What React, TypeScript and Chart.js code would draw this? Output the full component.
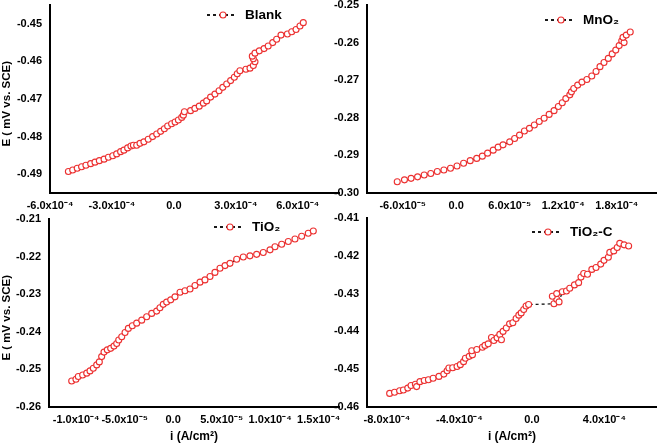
import React, { useEffect, useRef } from "react";
import { Chart, registerables } from "chart.js";

Chart.register(...registerables);

const FONT = '"Liberation Sans", Arial, Helvetica, sans-serif';
const RED = "rgb(236, 48, 48)";

// ---------- Blank ----------
const blankLabel = "Blank";
const blankX = [
  -5.11e-4, -4.9e-4, -4.68e-4, -4.47e-4, -4.26e-4, -4.03e-4, -3.82e-4, -3.61e-4, -3.38e-4, -3.17e-4,
  -2.96e-4, -2.77e-4, -2.58e-4, -2.42e-4, -2.24e-4, -2.08e-4, -1.96e-4, -1.8e-4, -1.64e-4, -1.45e-4,
  -1.24e-4, -1.03e-4, -0.83e-4, -0.64e-4, -0.46e-4, -0.3e-4, -0.11e-4, 0.06e-4, 0.22e-4, 0.38e-4,
  0.46e-4, 0.51e-4, 0.81e-4, 1.02e-4, 1.23e-4, 1.43e-4, 1.59e-4, 1.78e-4, 1.99e-4, 2.19e-4,
  2.37e-4, 2.56e-4, 2.75e-4, 2.93e-4, 3.07e-4, 3.2e-4, 3.49e-4, 3.69e-4, 3.85e-4, 3.93e-4,
  3.85e-4, 3.8e-4, 3.93e-4, 4.14e-4, 4.37e-4, 4.57e-4, 4.79e-4, 4.98e-4, 5.19e-4, 5.5e-4,
  5.71e-4, 5.92e-4, 6.11e-4, 6.27e-4,
];
const blankY = [
  -0.4893, -0.4889, -0.4884, -0.488, -0.4876, -0.4872, -0.4868, -0.4864, -0.486, -0.4855,
  -0.4851, -0.4846, -0.484, -0.4836, -0.483, -0.4825, -0.4823, -0.4823, -0.4818, -0.4814,
  -0.4807, -0.48, -0.4793, -0.4786, -0.4779, -0.4772, -0.4766, -0.4761, -0.4756, -0.4749,
  -0.4743, -0.4734, -0.4731, -0.4725, -0.4719, -0.4711, -0.4705, -0.4695, -0.4687, -0.4678,
  -0.4669, -0.466, -0.4651, -0.4642, -0.4633, -0.4625, -0.4621, -0.4618, -0.4611, -0.4601,
  -0.4593, -0.4586, -0.4578, -0.4572, -0.4566, -0.4559, -0.455, -0.4541, -0.453, -0.4527,
  -0.4521, -0.4515, -0.4506, -0.4497,
];
const blankXTicks = [-6e-4, -3e-4, 0, 3e-4, 6e-4];
const blankXTickLabels = ["-6.0x10\u207B\u2074", "-3.0x10\u207B\u2074", "0.0", "3.0x10\u207B\u2074", "6.0x10\u207B\u2074"];
const blankYTicks = [-0.49, -0.48, -0.47, -0.46, -0.45];
const blankXRange = [-6e-4, 8e-4];
const blankYRange = [-0.495, -0.445];

// ---------- MnO2 ----------
const mno2Label = "MnO\u2082";
const mno2X = [
  -6.61e-5, -5.8e-5, -5.06e-5, -4.33e-5, -3.59e-5, -2.85e-5, -2.12e-5, -1.38e-5, -0.64e-5, 0.09e-5,
  0.83e-5, 1.57e-5, 2.3e-5, 2.93e-5, 3.52e-5, 4.15e-5, 4.7e-5, 5.25e-5, 6.0e-5, 6.55e-5,
  7.1e-5, 7.65e-5, 8.21e-5, 8.76e-5, 9.31e-5, 9.86e-5, 10.42e-5, 10.97e-5, 11.45e-5, 11.89e-5,
  12.29e-5, 12.74e-5, 12.92e-5, 13.18e-5, 13.62e-5, 14.1e-5, 14.65e-5, 15.2e-5, 15.68e-5, 16.12e-5,
  16.57e-5, 17.05e-5, 17.49e-5, 17.89e-5, 18.27e-5, 18.56e-5, 18.82e-5, 18.7e-5, 19.07e-5, 19.51e-5,
];
const mno2Y = [
  -0.297, -0.2965, -0.2961, -0.2957, -0.2952, -0.2948, -0.2943, -0.2939, -0.2934, -0.2928,
  -0.2921, -0.2914, -0.2908, -0.2902, -0.2894, -0.2886, -0.2878, -0.2872, -0.2864, -0.2855,
  -0.2846, -0.2835, -0.2828, -0.2819, -0.281, -0.2801, -0.2791, -0.2781, -0.277, -0.276,
  -0.2749, -0.2739, -0.2731, -0.2722, -0.2713, -0.2705, -0.2698, -0.2689, -0.2677, -0.2664,
  -0.2653, -0.2642, -0.263, -0.262, -0.2608, -0.2595, -0.26, -0.2586, -0.258, -0.2572,
];
const mno2XTicks = [-6e-5, 0, 6e-5, 1.2e-4, 1.8e-4];
const mno2XTickLabels = ["-6.0x10\u207B\u2075", "0.0", "6.0x10\u207B\u2075", "1.2x10\u207B\u2074", "1.8x10\u207B\u2074"];
const mno2YTicks = [-0.3, -0.29, -0.28, -0.27, -0.26, -0.25];
const mno2XRange = [-1e-4, 2.25e-4];
const mno2YRange = [-0.3, -0.25];

// ---------- TiO2 ----------
const tio2Label = "TiO\u2082";
const tio2X = [
  -10.46e-5, -10.02e-5, -9.78e-5, -9.33e-5, -8.91e-5, -8.57e-5, -8.23e-5, -7.88e-5, -7.61e-5, -7.37e-5,
  -7.13e-5, -6.79e-5, -6.44e-5, -6.1e-5, -5.82e-5, -5.61e-5, -5.3e-5, -4.96e-5, -4.62e-5, -4.21e-5,
  -3.76e-5, -3.24e-5, -2.73e-5, -2.21e-5, -1.7e-5, -1.36e-5, -1.02e-5, -0.67e-5, -0.25e-5, 0.19e-5,
  0.71e-5, 1.22e-5, 1.74e-5, 2.25e-5, 2.77e-5, 3.28e-5, 3.8e-5, 4.31e-5, 4.83e-5, 5.35e-5,
  5.86e-5, 6.55e-5, 7.23e-5, 7.92e-5, 8.61e-5, 9.29e-5, 9.99e-5, 10.5e-5, 11.19e-5, 11.87e-5,
  12.56e-5, 13.25e-5, 13.93e-5, 14.45e-5,
];
const tio2Y = [
  -0.2531, -0.2526, -0.2519, -0.2515, -0.251, -0.2504, -0.2497, -0.2488, -0.248, -0.2466,
  -0.2454, -0.2448, -0.2444, -0.2438, -0.2431, -0.2422, -0.2413, -0.2402, -0.2391, -0.2384,
  -0.2377, -0.2369, -0.236, -0.2351, -0.2345, -0.2336, -0.2327, -0.2321, -0.2315, -0.2307,
  -0.2295, -0.2291, -0.2286, -0.2277, -0.2268, -0.2262, -0.2253, -0.2242, -0.2231, -0.2224,
  -0.2218, -0.2207, -0.2201, -0.2198, -0.2194, -0.2189, -0.2182, -0.2174, -0.2167, -0.216,
  -0.2153, -0.2146, -0.2138, -0.2132,
];
const tio2XTicks = [-1e-4, -5e-5, 0, 5e-5, 1e-4, 1.5e-4];
const tio2XTickLabels = ["-1.0x10\u207B\u2074", "-5.0x10\u207B\u2075", "0.0", "5.0x10\u207B\u2075", "1.0x10\u207B\u2074", "1.5x10\u207B\u2074"];
const tio2YTicks = [-0.26, -0.25, -0.24, -0.23, -0.22, -0.21];
const tio2XRange = [-1.28e-4, 1.71e-4];
const tio2YRange = [-0.26, -0.21];

// ---------- TiO2-C ----------
const tio2cLabel = "TiO\u2082-C";
const tio2cX = [
  -7.85e-4, -7.58e-4, -7.3e-4, -7.09e-4, -6.85e-4, -6.67e-4, -6.43e-4, -6.36e-4, -6.18e-4, -5.94e-4,
  -5.71e-4, -5.45e-4, -5.13e-4, -4.86e-4, -4.68e-4, -4.58e-4, -4.37e-4, -4.13e-4, -3.95e-4, -3.77e-4,
  -3.67e-4, -3.46e-4, -3.28e-4, -3.32e-4, -3.04e-4, -2.73e-4, -2.59e-4, -2.41e-4, -2.23e-4, -2.1e-4,
  -1.92e-4, -1.77e-4, -1.68e-4, -1.59e-4, -1.41e-4, -1.23e-4, -1.05e-4, -0.87e-4, -0.72e-4, -0.59e-4,
  -0.45e-4, -0.32e-4, -0.18e-4, 1.22e-4, 1.37e-4, 1.13e-4, 1.37e-4, 1.5e-4, 1.68e-4, 1.91e-4,
  2.09e-4, 2.35e-4, 2.58e-4, 2.71e-4, 2.86e-4, 3.07e-4, 3.31e-4, 3.54e-4, 3.8e-4, 3.98e-4,
  4.22e-4, 4.3e-4, 4.52e-4, 4.71e-4, 4.85e-4, 5.09e-4, 5.34e-4,
];
const tio2cY = [
  -0.4564, -0.4561, -0.4557, -0.4555, -0.455, -0.4543, -0.454, -0.4546, -0.4533, -0.453,
  -0.4528, -0.4524, -0.4519, -0.4513, -0.4504, -0.4497, -0.4496, -0.4493, -0.4488, -0.448,
  -0.4471, -0.4466, -0.4462, -0.4451, -0.4448, -0.4442, -0.4437, -0.4433, -0.4416, -0.4424,
  -0.4417, -0.4408, -0.4422, -0.44, -0.4391, -0.438, -0.4377, -0.4366, -0.4357, -0.4351,
  -0.4342, -0.4333, -0.4329, -0.4327, -0.4315, -0.4307, -0.43, -0.4322, -0.4295, -0.4293,
  -0.4286, -0.4277, -0.4271, -0.4256, -0.4247, -0.4249, -0.4236, -0.4231, -0.4222, -0.4212,
  -0.4204, -0.4191, -0.4187, -0.4178, -0.4167, -0.4171, -0.4174,
];
const tio2cXTicks = [-8e-4, -4e-4, 0, 4e-4];
const tio2cXTickLabels = ["-8.0x10\u207B\u2074", "-4.0x10\u207B\u2074", "0.0", "4.0x10\u207B\u2074"];
const tio2cYTicks = [-0.46, -0.45, -0.44, -0.43, -0.42, -0.41];
const tio2cXRange = [-9.1e-4, 6.9e-4];
const tio2cYRange = [-0.46, -0.41];

const yTitleText = "E ( mV vs. SCE)   ";
const xTitleText = "i (A/cm\u00B2)";

const W = 661;
const H = 445;

const dashLegend = {
  id: "dashLegend",
  afterDraw(chart: any, _args: any, opts: any) {
    const { ctx } = chart;
    const { x, y, text } = opts;
    ctx.save();
    ctx.strokeStyle = "#000";
    ctx.lineWidth = 1.8;
    ctx.setLineDash([3, 3]);
    ctx.beginPath();
    ctx.moveTo(x, y);
    ctx.lineTo(x + 30, y);
    ctx.stroke();
    ctx.setLineDash([]);
    ctx.beginPath();
    ctx.arc(x + 16, y, 3, 0, Math.PI * 2);
    ctx.fillStyle = "#fff";
    ctx.fill();
    ctx.strokeStyle = RED;
    ctx.lineWidth = 1.1;
    ctx.stroke();
    ctx.font = `bold 13.5px ${FONT}`;
    ctx.fillStyle = "#000";
    ctx.textAlign = "left";
    ctx.textBaseline = "middle";
    ctx.fillText(text, x + 38, y);
    ctx.restore();
  },
};

type PanelDef = {
  label: string;
  xs: number[];
  ys: number[];
  xRange: number[];
  yRange: number[];
  xTicks: number[];
  xTickLabels: string[];
  yTicks: number[];
  area: { l: number; t: number; r: number; b: number };
  padL: number;
  xH: number;
  yTitle: boolean;
  xTitle: boolean;
  legend: { x: number; y: number };
};

const panels: PanelDef[] = [
  {
    label: blankLabel, xs: blankX, ys: blankY, xRange: blankXRange, yRange: blankYRange,
    xTicks: blankXTicks, xTickLabels: blankXTickLabels, yTicks: blankYTicks,
    area: { l: 50, t: 5, r: 339, b: 193 }, padL: 0, xH: 25, yTitle: true, xTitle: false,
    legend: { x: 207, y: 15 },
  },
  {
    label: mno2Label, xs: mno2X, ys: mno2Y, xRange: mno2XRange, yRange: mno2YRange,
    xTicks: mno2XTicks, xTickLabels: mno2XTickLabels, yTicks: mno2YTicks,
    area: { l: 367, t: 5, r: 661, b: 193 }, padL: 327, xH: 25, yTitle: false, xTitle: false,
    legend: { x: 545, y: 20 },
  },
  {
    label: tio2Label, xs: tio2X, ys: tio2Y, xRange: tio2XRange, yRange: tio2YRange,
    xTicks: tio2XTicks, xTickLabels: tio2XTickLabels, yTicks: tio2YTicks,
    area: { l: 49, t: 219, r: 339, b: 407 }, padL: 0, xH: 38, yTitle: true, xTitle: true,
    legend: { x: 214, y: 227 },
  },
  {
    label: tio2cLabel, xs: tio2cX, ys: tio2cY, xRange: tio2cXRange, yRange: tio2cYRange,
    xTicks: tio2cXTicks, xTickLabels: tio2cXTickLabels, yTicks: tio2cYTicks,
    area: { l: 367, t: 218, r: 661, b: 407 }, padL: 327, xH: 38, yTitle: false, xTitle: true,
    legend: { x: 532, y: 232 },
  },
];

function buildConfig(p: PanelDef): any {
  const n = Math.min(p.xs.length, p.ys.length);
  const data = [] as { x: number; y: number }[];
  for (let i = 0; i < n; i++) data.push({ x: p.xs[i], y: p.ys[i] });
  const yW = p.area.l - p.padL;
  const tickFont = { family: FONT, size: 11, weight: "bold" as const };
  return {
    type: "scatter",
    data: {
      datasets: [
        {
          label: p.label,
          data,
          showLine: true,
          borderColor: "#000",
          borderWidth: 1.2,
          borderDash: [3, 3],
          pointRadius: 3,
          pointHoverRadius: 3,
          pointBorderWidth: 1.1,
          pointBorderColor: RED,
          pointBackgroundColor: "#fff",
          clip: false,
        },
      ],
    },
    options: {
      responsive: false,
      animation: false,
      events: [],
      devicePixelRatio: 1,
      layout: {
        padding: {
          left: p.padL,
          top: p.area.t,
          right: W - p.area.r,
          bottom: H - p.area.b - p.xH,
        },
      },
      plugins: {
        legend: { display: false },
        tooltip: { enabled: false },
        dashLegend: { x: p.legend.x, y: p.legend.y, text: p.label },
      },
      scales: {
        x: {
          type: "linear",
          min: p.xRange[0],
          max: p.xRange[1],
          grid: { display: false, drawTicks: false },
          border: { display: true, color: "#000", width: 2 },
          ticks: {
            font: tickFont,
            color: "#000",
            padding: 6,
            autoSkip: false,
            maxRotation: 0,
            minRotation: 0,
            callback: (_v: any, i: number) => p.xTickLabels[i],
          },
          title: {
            display: p.xTitle,
            text: xTitleText,
            color: "#000",
            font: { family: FONT, size: 12, weight: "bold" },
            padding: { top: 0, bottom: 1 },
          },
          afterBuildTicks: (scale: any) => {
            scale.ticks = p.xTicks.map((v) => ({ value: v }));
          },
          afterFit: (scale: any) => {
            scale.height = p.xH;
            scale.paddingLeft = 0;
            scale.paddingRight = 0;
          },
        },
        y: {
          type: "linear",
          min: p.yRange[0],
          max: p.yRange[1],
          grid: { display: false, drawTicks: false },
          border: { display: true, color: "#000", width: 2 },
          ticks: {
            font: tickFont,
            color: "#000",
            padding: 8,
            autoSkip: false,
            callback: (v: any) => Number(v).toFixed(2),
          },
          title: {
            display: p.yTitle,
            text: yTitleText,
            color: "#000",
            font: { family: FONT, size: 11.5, weight: "bold" },
            padding: { top: 0, bottom: 0 },
          },
          afterBuildTicks: (scale: any) => {
            scale.ticks = p.yTicks.map((v) => ({ value: v }));
          },
          afterFit: (scale: any) => {
            scale.width = yW;
            scale.paddingTop = 0;
            scale.paddingBottom = 0;
          },
        },
      },
    },
    plugins: [dashLegend],
  };
}

function PanelCanvas({ p }: { p: PanelDef }) {
  const ref = useRef<HTMLCanvasElement | null>(null);
  useEffect(() => {
    if (!ref.current) return;
    const chart = new Chart(ref.current, buildConfig(p));
    return () => chart.destroy();
  }, [p]);
  return (
    <canvas
      ref={ref}
      width={W}
      height={H}
      style={{ position: "absolute", left: 0, top: 0, width: W, height: H }}
    />
  );
}

export default function App() {
  return (
    <div
      style={{
        position: "absolute",
        left: 0,
        top: 0,
        width: W,
        height: H,
        background: "#fff",
        overflow: "hidden",
      }}
    >
      {panels.map((p) => (
        <PanelCanvas key={p.label} p={p} />
      ))}
    </div>
  );
}
